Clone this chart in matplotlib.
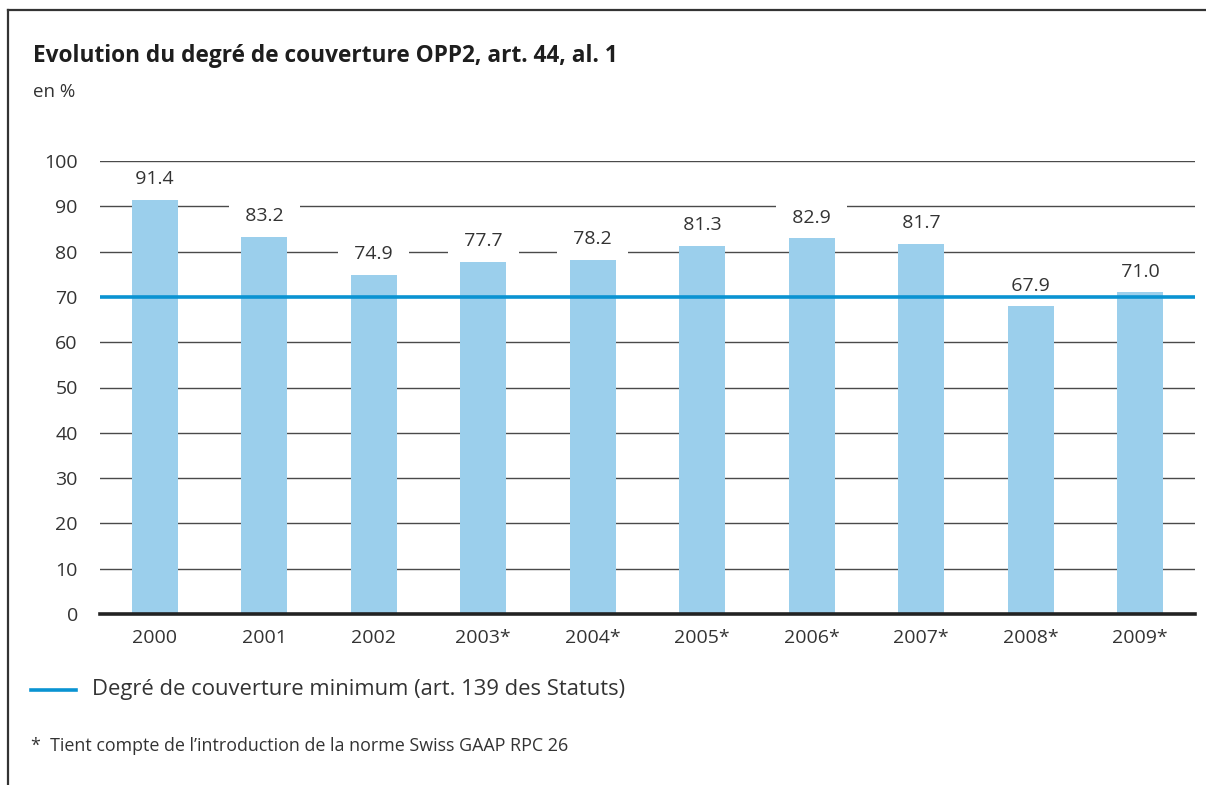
import matplotlib
matplotlib.use("Agg")
import matplotlib.pyplot as plt
from matplotlib.lines import Line2D

plt.rcParams['font.family'] = ['Open Sans', 'DejaVu Sans']

years = ["2000", "2001", "2002", "2003*", "2004*", "2005*", "2006*", "2007*", "2008*", "2009*"]
values = [91.4, 83.2, 74.9, 77.7, 78.2, 81.3, 82.9, 81.7, 67.9, 71.0]
minimum = 70
yticks = [0, 10, 20, 30, 40, 50, 60, 70, 80, 90, 100]

W, H = 1206, 785
fig = plt.figure(figsize=(W / 100, H / 100), dpi=100)

def fx(px):
    return px / W

def fy(py):
    return 1 - py / H

ax = fig.add_axes([fx(100), fy(614), fx(1195) - fx(100), fy(161) - fy(614)])
ax.set_xlim(-0.5, len(years) - 0.5)
ax.set_ylim(0, 100)

for y in yticks[1:]:
    if y == minimum:
        continue
    ax.axhline(y, color='#4a4a4a', lw=1.0, zorder=1)

x = list(range(len(years)))
ax.bar(x, values, width=0.42, color='#9bcfec', zorder=2)
ax.axhline(minimum, color='#0a93d2', lw=2.6, zorder=3)
ax.axhline(0, color='#222222', lw=2.6, zorder=4, clip_on=False)

for xi, v in zip(x, values):
    ax.annotate("  " + f"{v:.1f}" + "  ", (xi, v), xytext=(0, 15), textcoords='offset points',
                ha='center', va='center', fontsize=14, color='#333333', zorder=2.5,
                bbox=dict(boxstyle='square,pad=0.32', fc='white', ec='none'))

for s in ax.spines.values():
    s.set_visible(False)
ax.set_xticks(x)
ax.set_xticklabels(years, fontsize=14, color='#333333')
ax.set_yticks(yticks)
ax.set_yticklabels([str(t) for t in yticks], fontsize=14, color='#333333')
ax.tick_params(length=0)
ax.tick_params(axis='x', pad=11)
ax.tick_params(axis='y', pad=16)

# frame lines
fig.add_artist(Line2D([fx(8), 1], [fy(10), fy(10)], color='#333333', lw=1.6))
fig.add_artist(Line2D([fx(8), fx(8)], [fy(10), 0], color='#333333', lw=1.6))

fig.text(fx(33), fy(56), "Evolution du degré de couverture OPP2, art. 44, al. 1",
         fontsize=16.3, fontweight='bold', color='#1e1e1e', va='center', ha='left')
fig.text(fx(33), fy(92), "en %", fontsize=13.5, color='#333333', va='center', ha='left')

fig.add_artist(Line2D([fx(31), fx(76)], [fy(690), fy(690)], color='#0a93d2', lw=2.6))
fig.text(fx(92), fy(690), "Degré de couverture minimum (art. 139 des Statuts)",
         fontsize=15.8, color='#333333', va='center', ha='left')
fig.text(fx(31), fy(746), "*  Tient compte de l\u2019introduction de la norme Swiss GAAP RPC 26",
         fontsize=12.9, color='#333333', va='center', ha='left')

fig.savefig("out.png", dpi=100)
